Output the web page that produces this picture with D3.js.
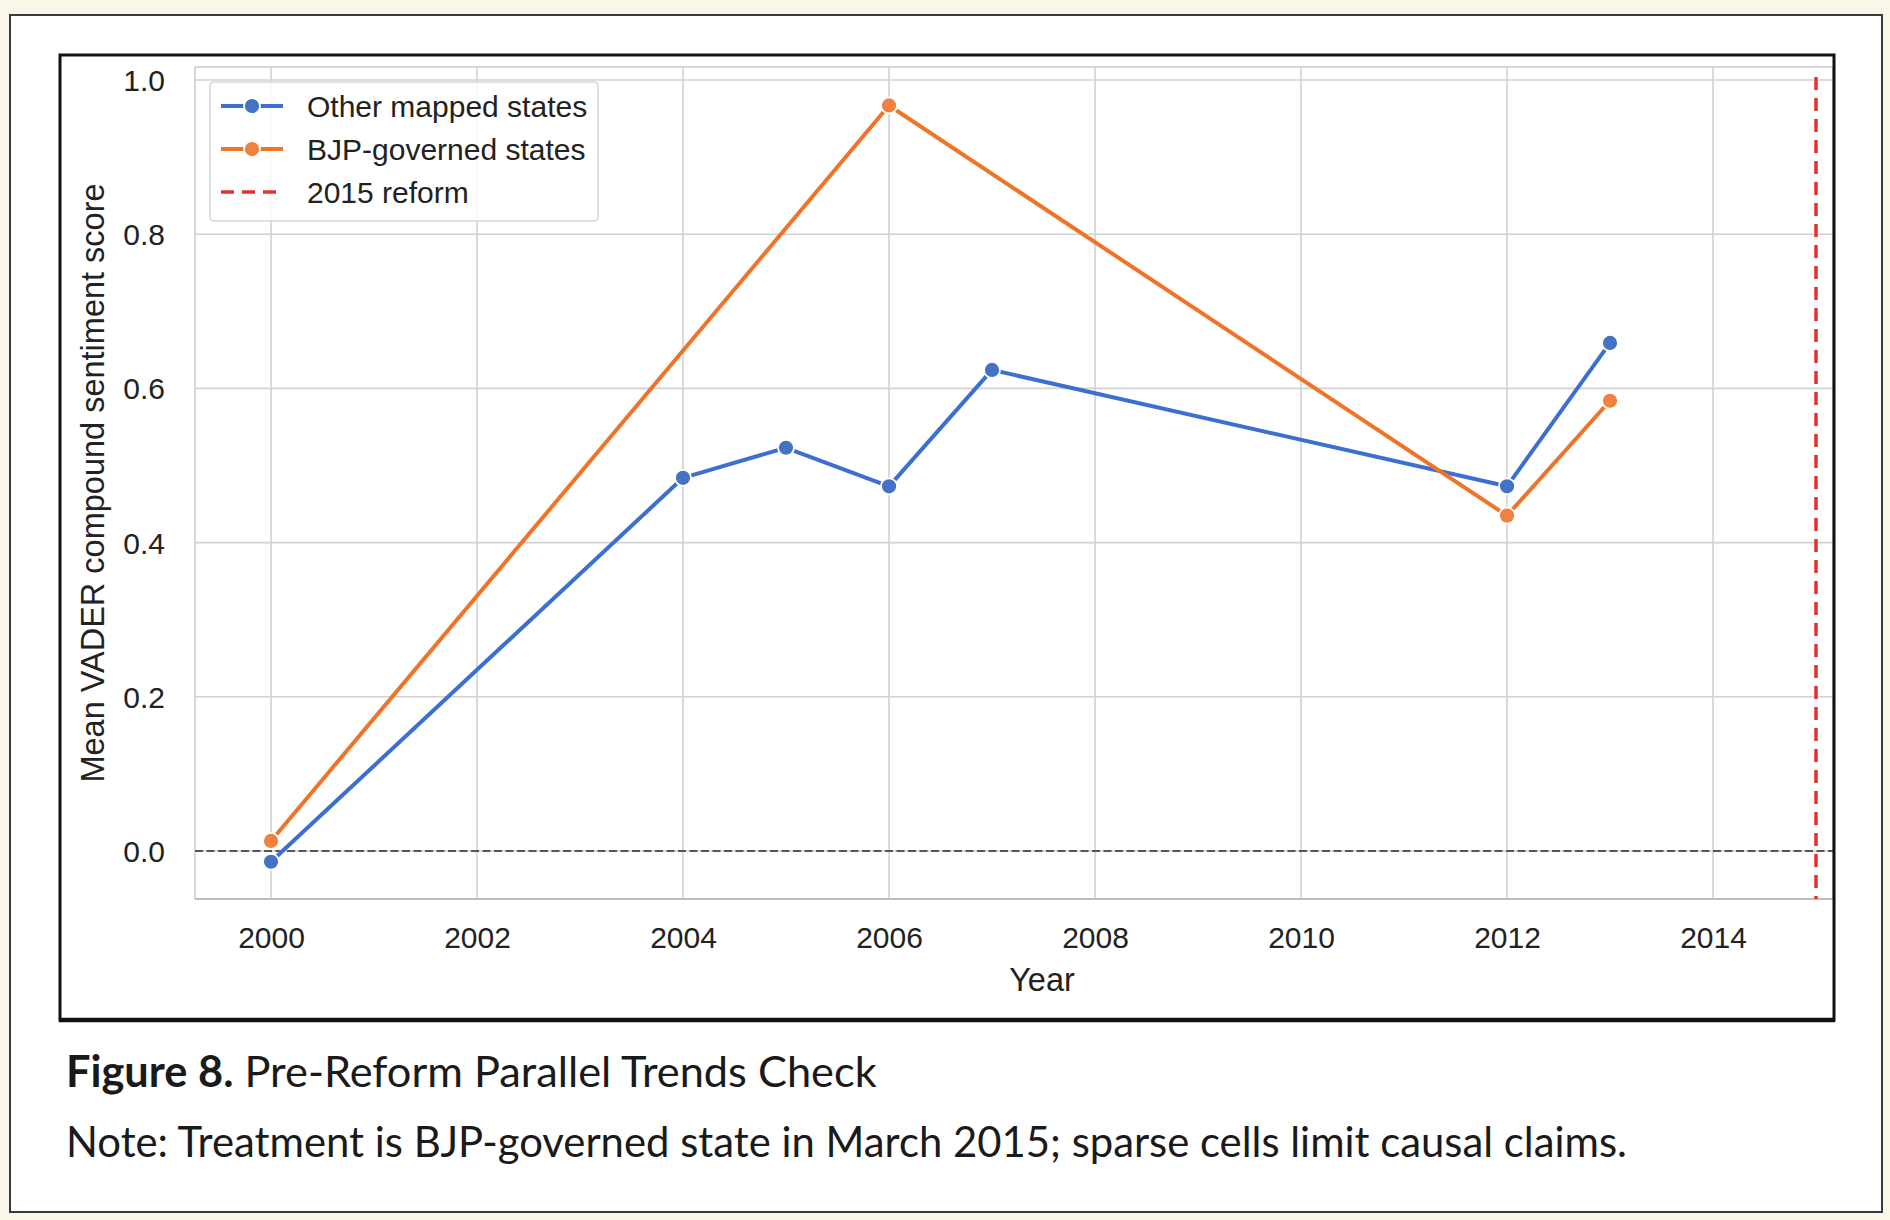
<!DOCTYPE html>
<html>
<head>
<meta charset="utf-8">
<script src="https://cdn.jsdelivr.net/npm/d3@7"></script>
<style>
  html, body { margin: 0; padding: 0; background: #fbf7e8; }
  svg { display: block; }
</style>
</head>
<body>
<svg id="chart" width="1890" height="1220"></svg>
<script>
// ---------- data ----------
const otherYears = [2000, 2004, 2005, 2006, 2007, 2012, 2013];
const otherValues = [-0.014, 0.484, 0.523, 0.473, 0.624, 0.473, 0.659];
const bjpYears = [2000, 2006, 2012, 2013];
const bjpValues = [0.013, 0.967, 0.435, 0.584];
const xTicks = [2000, 2002, 2004, 2006, 2008, 2010, 2012, 2014];
const yTicks = [0.0, 0.2, 0.4, 0.6, 0.8, 1.0];
const reformYear = 2015;
const seriesNames = ["Other mapped states", "BJP-governed states", "2015 reform"];
const captionBold = "Figure 8.";
const captionRest = " Pre-Reform Parallel Trends Check";
const noteText = "Note: Treatment is BJP-governed state in March 2015; sparse cells limit causal claims.";
const xLabel = "Year";
const yLabel = "Mean VADER compound sentiment score";

// ---------- layout ----------
const svg = d3.select("#chart");
const W = 1890, H = 1220;
const ax = { left: 195, top: 67, right: 1833, bottom: 899 };
const BLUE_LINE = "#3d6fd0", BLUE_MK = "#4472c4";
const ORANGE_LINE = "#f07428", ORANGE_MK = "#ef8240";
const RED = "#e8302e";
const FONT = "'Liberation Sans', Arial, sans-serif";
const CAPFONT = "Lato, 'Open Sans', sans-serif";

// background panel
svg.append("rect").attr("x", 0).attr("y", 0).attr("width", W).attr("height", H).attr("fill", "#fbf7e8");
svg.append("rect").attr("x", 10).attr("y", 15).attr("width", 1872).attr("height", 1197)
  .attr("fill", "#ffffff").attr("stroke", "#3a3a3a").attr("stroke-width", 2);

// scales
const x = d3.scaleLinear().domain([1999.262, 2015.165]).range([ax.left, ax.right]);
const y = d3.scaleLinear().domain([-0.0623, 1.0169]).range([ax.bottom, ax.top]);

const g = svg.append("g");

// gridlines
g.append("g").selectAll("line.vg").data(xTicks).join("line")
  .attr("x1", d => x(d)).attr("x2", d => x(d))
  .attr("y1", ax.top).attr("y2", ax.bottom)
  .attr("stroke", "#d2d2d2").attr("stroke-width", 1.6);
g.append("g").selectAll("line.hg").data(yTicks).join("line")
  .attr("x1", ax.left).attr("x2", ax.right)
  .attr("y1", d => y(d)).attr("y2", d => y(d))
  .attr("stroke", "#d2d2d2").attr("stroke-width", 1.6);

// spines
g.append("rect").attr("x", ax.left).attr("y", ax.top)
  .attr("width", ax.right - ax.left).attr("height", ax.bottom - ax.top)
  .attr("fill", "none").attr("stroke", "#cfcfcf").attr("stroke-width", 1.6);
g.append("line").attr("x1", ax.left).attr("x2", ax.right).attr("y1", ax.bottom).attr("y2", ax.bottom)
  .attr("stroke", "#bdbdbd").attr("stroke-width", 2.2);

// axes via d3 (ticks hidden, labels only)
const xAxis = d3.axisBottom(x).tickValues(xTicks).tickFormat(d3.format("d")).tickSize(0).tickPadding(0);
const xg = g.append("g").attr("transform", `translate(0,${ax.bottom})`).call(xAxis);
xg.select(".domain").remove();
xg.selectAll("text").attr("font-family", FONT).attr("font-size", 30).attr("fill", "#222")
  .attr("dy", null).attr("y", 49);

const yAxis = d3.axisLeft(y).tickValues(yTicks).tickFormat(d3.format(".1f")).tickSize(0).tickPadding(0);
const yg = g.append("g").attr("transform", `translate(${ax.left},0)`).call(yAxis);
yg.select(".domain").remove();
yg.selectAll("text").attr("font-family", FONT).attr("font-size", 30).attr("fill", "#222")
  .attr("x", -30).attr("dy", "0.35em");

// axis labels
svg.append("text").attr("x", 1042).attr("y", 991).attr("text-anchor", "middle")
  .attr("font-family", FONT).attr("font-size", 32.5).attr("fill", "#222").text(xLabel);
svg.append("text").attr("transform", `translate(104,${(ax.top + ax.bottom) / 2}) rotate(-90)`)
  .attr("text-anchor", "middle").attr("font-family", FONT).attr("font-size", 32.5)
  .attr("fill", "#222").text(yLabel);

// zero reference line
g.append("line").attr("x1", ax.left).attr("x2", ax.right).attr("y1", y(0)).attr("y2", y(0))
  .attr("stroke", "#555").attr("stroke-width", 2).attr("stroke-dasharray", "8,3.5");

// reform line
g.append("line").attr("x1", x(reformYear)).attr("x2", x(reformYear))
  .attr("y1", ax.top + 10).attr("y2", ax.bottom)
  .attr("stroke", RED).attr("stroke-width", 3.5).attr("stroke-dasharray", "13,8");

// series
const series = [
  { years: otherYears, values: otherValues, line: BLUE_LINE, mk: BLUE_MK },
  { years: bjpYears, values: bjpValues, line: ORANGE_LINE, mk: ORANGE_MK }
];
const lineGen = d3.line().x(d => x(d[0])).y(d => y(d[1]));
series.forEach(s => {
  const pts = s.years.map((yr, i) => [yr, s.values[i]]);
  g.append("path").datum(pts).attr("d", lineGen)
    .attr("fill", "none").attr("stroke", s.line).attr("stroke-width", 4)
    .attr("stroke-linejoin", "round").attr("stroke-linecap", "round");
  g.append("g").selectAll("circle").data(pts).join("circle")
    .attr("cx", d => x(d[0])).attr("cy", d => y(d[1])).attr("r", 8)
    .attr("fill", s.mk).attr("stroke", "#ffffff").attr("stroke-width", 1.8);
});

// legend
const lg = svg.append("g");
lg.append("rect").attr("x", 210).attr("y", 82).attr("width", 388).attr("height", 139).attr("rx", 4)
  .attr("fill", "#ffffff").attr("fill-opacity", 0.85).attr("stroke", "#d6d6d6").attr("stroke-width", 1.6);
const legendItems = [
  { name: seriesNames[0], color: BLUE_LINE, mk: BLUE_MK, dash: null },
  { name: seriesNames[1], color: ORANGE_LINE, mk: ORANGE_MK, dash: null },
  { name: seriesNames[2], color: RED, mk: null, dash: "13,8" }
];
legendItems.forEach((it, i) => {
  const yy = 106 + i * 43;
  lg.append("line").attr("x1", 221).attr("x2", 283).attr("y1", yy).attr("y2", yy)
    .attr("stroke", it.color).attr("stroke-width", it.dash ? 3.5 : 4)
    .attr("stroke-dasharray", it.dash);
  if (it.mk) {
    lg.append("circle").attr("cx", 252).attr("cy", yy).attr("r", 8)
      .attr("fill", it.mk).attr("stroke", "#fff").attr("stroke-width", 1.8);
  }
  lg.append("text").attr("x", 307).attr("y", yy).attr("dy", "0.35em")
    .attr("font-family", FONT).attr("font-size", 30).attr("fill", "#222").text(it.name);
});

// figure frame
svg.append("rect").attr("x", 60).attr("y", 55).attr("width", 1774).attr("height", 965)
  .attr("fill", "none").attr("stroke", "#111").attr("stroke-width", 3);
svg.append("line").attr("x1", 59).attr("x2", 1835).attr("y1", 1020).attr("y2", 1020)
  .attr("stroke", "#111").attr("stroke-width", 4.5);

// captions
function fitText(sel, target) {
  const w = sel.node().getComputedTextLength();
  const fs = parseFloat(sel.attr("font-size"));
  sel.attr("font-size", fs * target / w);
}
const cap = svg.append("text").attr("x", 66).attr("y", 1087)
  .attr("font-family", CAPFONT).attr("font-size", 44).attr("fill", "#1a1a1a");
cap.append("tspan").attr("font-weight", "bold").text(captionBold);
cap.append("tspan").text(captionRest);
fitText(cap, 811);
const note = svg.append("text").attr("x", 66).attr("y", 1157)
  .attr("font-family", CAPFONT).attr("font-size", 44).attr("fill", "#1a1a1a").text(noteText);
fitText(note, 1561);
</script>
</body>
</html>
